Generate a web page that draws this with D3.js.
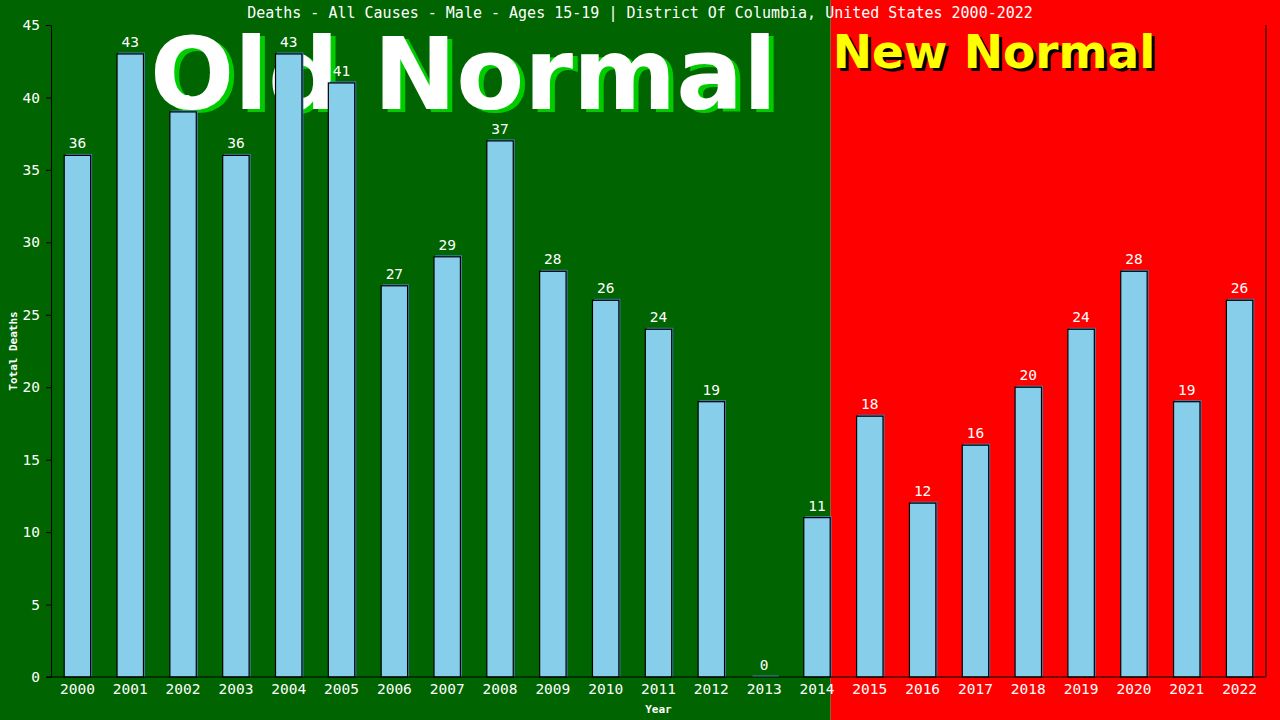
<!DOCTYPE html>
<html lang="en">
  <head>
    <meta charset="utf-8" />
    <script src="https://cdn.jsdelivr.net/npm/d3@7/dist/d3.min.js"></script>
    <style>
      body { margin: 0; background: #fff; }
      text { font-family: "DejaVu Sans Mono", monospace; fill: #fff; }
      .axis path, .axis line { stroke: #000; }
      .axis text { font-size: 14.5px; fill: #fff; font-family: "DejaVu Sans Mono", monospace; }
    </style>
  </head>
  <body>
    <div id="container"></div>

    <script>
      const years = ["2000", "2001", "2002", "2003", "2004", "2005", "2006", "2007", "2008", "2009", "2010", "2011",
        "2012", "2013", "2014", "2015", "2016", "2017", "2018", "2019", "2020", "2021", "2022"];
      const deaths = [36, 43, 39, 36, 43, 41, 27, 29, 37, 28, 26, 24, 19, 0, 11, 18, 12, 16, 20, 24, 28, 19, 26];
      const yTicks = [0, 5, 10, 15, 20, 25, 30, 35, 40, 45];
      const lastOldYear = "2014";

      const width = 1280;
      const height = 720;
      const margin = { top: 25, right: 14, bottom: 43, left: 51 };

      const svg = d3.select("#container").append("svg").attr("width", width).attr("height", height);

      const x = d3.scaleBand().domain(years).range([margin.left, width - margin.right]).paddingInner(0.5).paddingOuter(0.25);
      const y = d3.scaleLinear().domain([0, 45]).range([height - margin.bottom, margin.top]);

      // backgrounds: old normal / new normal
      const split = x(lastOldYear) + x.bandwidth() + 0.5;
      svg.append("rect").attr("x", 0).attr("y", 0).attr("width", split).attr("height", height).attr("fill", "#006400");
      svg.append("rect").attr("x", split).attr("y", 0).attr("width", width - split).attr("height", height).attr("fill", "#ff0000");

      // big labels
      svg.append("text").attr("x", 155).attr("y", 112).text("Old Normal")
        .style("font-family", "DejaVu Sans, sans-serif").style("font-weight", "bold").style("font-size", "99px")
        .style("fill", "#00cc00");
      svg.append("text").attr("x", 150).attr("y", 109).text("Old Normal")
        .style("font-family", "DejaVu Sans, sans-serif").style("font-weight", "bold").style("font-size", "99px")
        .style("fill", "#fff");
      svg.append("text").attr("x", split + 5).attr("y", 71).text("New Normal")
        .style("font-family", "DejaVu Sans, sans-serif").style("font-weight", "bold").style("font-size", "47px")
        .style("fill", "#000");
      svg.append("text").attr("x", split + 2).attr("y", 68).text("New Normal")
        .style("font-family", "DejaVu Sans, sans-serif").style("font-weight", "bold").style("font-size", "47px")
        .style("fill", "#ffff00");

      // title
      svg.append("text").attr("x", width / 2).attr("y", 18).attr("text-anchor", "middle")
        .style("font-size", "15px")
        .text("Deaths - All Causes - Male - Ages 15-19 | District Of Columbia, United States 2000-2022");

      // bars
      const bars = svg.append("g");
      bars.selectAll(".shadow").data(years).enter().append("rect")
        .attr("class", "shadow")
        .attr("x", (d) => x(d) + 1.5)
        .attr("y", (d, i) => y(deaths[i]) - 1.5)
        .attr("width", x.bandwidth())
        .attr("height", (d, i) => y(0) - y(deaths[i]) + 1.5)
        .attr("fill", "#4682b4");
      bars.selectAll(".bar").data(years).enter().append("rect")
        .attr("class", "bar")
        .attr("x", (d) => x(d))
        .attr("y", (d, i) => y(deaths[i]))
        .attr("width", x.bandwidth())
        .attr("height", (d, i) => y(0) - y(deaths[i]))
        .attr("fill", "#87ceeb")
        .attr("stroke", (d, i) => (deaths[i] === 0 ? "none" : "#000"))
        .attr("stroke-width", 1.2);

      bars.selectAll(".val").data(years).enter().append("text")
        .attr("class", "val")
        .attr("x", (d) => x(d) + x.bandwidth() / 2)
        .attr("y", (d, i) => y(deaths[i]) - 7)
        .attr("text-anchor", "middle")
        .style("font-size", "14.5px")
        .text((d, i) => deaths[i]);

      // axes
      svg.append("g").attr("class", "axis")
        .attr("transform", `translate(${margin.left},0)`)
        .call(d3.axisLeft(y).tickValues(yTicks).tickSize(5).tickSizeOuter(0).tickPadding(6));
      svg.append("g").attr("class", "axis")
        .attr("transform", `translate(0,${y(0)})`)
        .call(d3.axisBottom(x).tickSize(0).tickPadding(7))
        .call((g) => g.select(".domain").attr("d", `M${margin.left - 5},0H${width - margin.right}`));
      svg.append("line")
        .attr("x1", width - margin.right).attr("x2", width - margin.right)
        .attr("y1", margin.top).attr("y2", y(0))
        .attr("stroke", "#000");

      // axis titles
      svg.append("text").attr("x", (margin.left + width - margin.right) / 2).attr("y", 713)
        .attr("text-anchor", "middle").style("font-size", "11px").style("font-weight", "bold").text("Year");
      svg.append("text").attr("transform", `translate(17,${(margin.top + y(0)) / 2}) rotate(-90)`)
        .attr("text-anchor", "middle").style("font-size", "11px").style("font-weight", "bold").text("Total Deaths");
    </script>
  </body>
</html>
